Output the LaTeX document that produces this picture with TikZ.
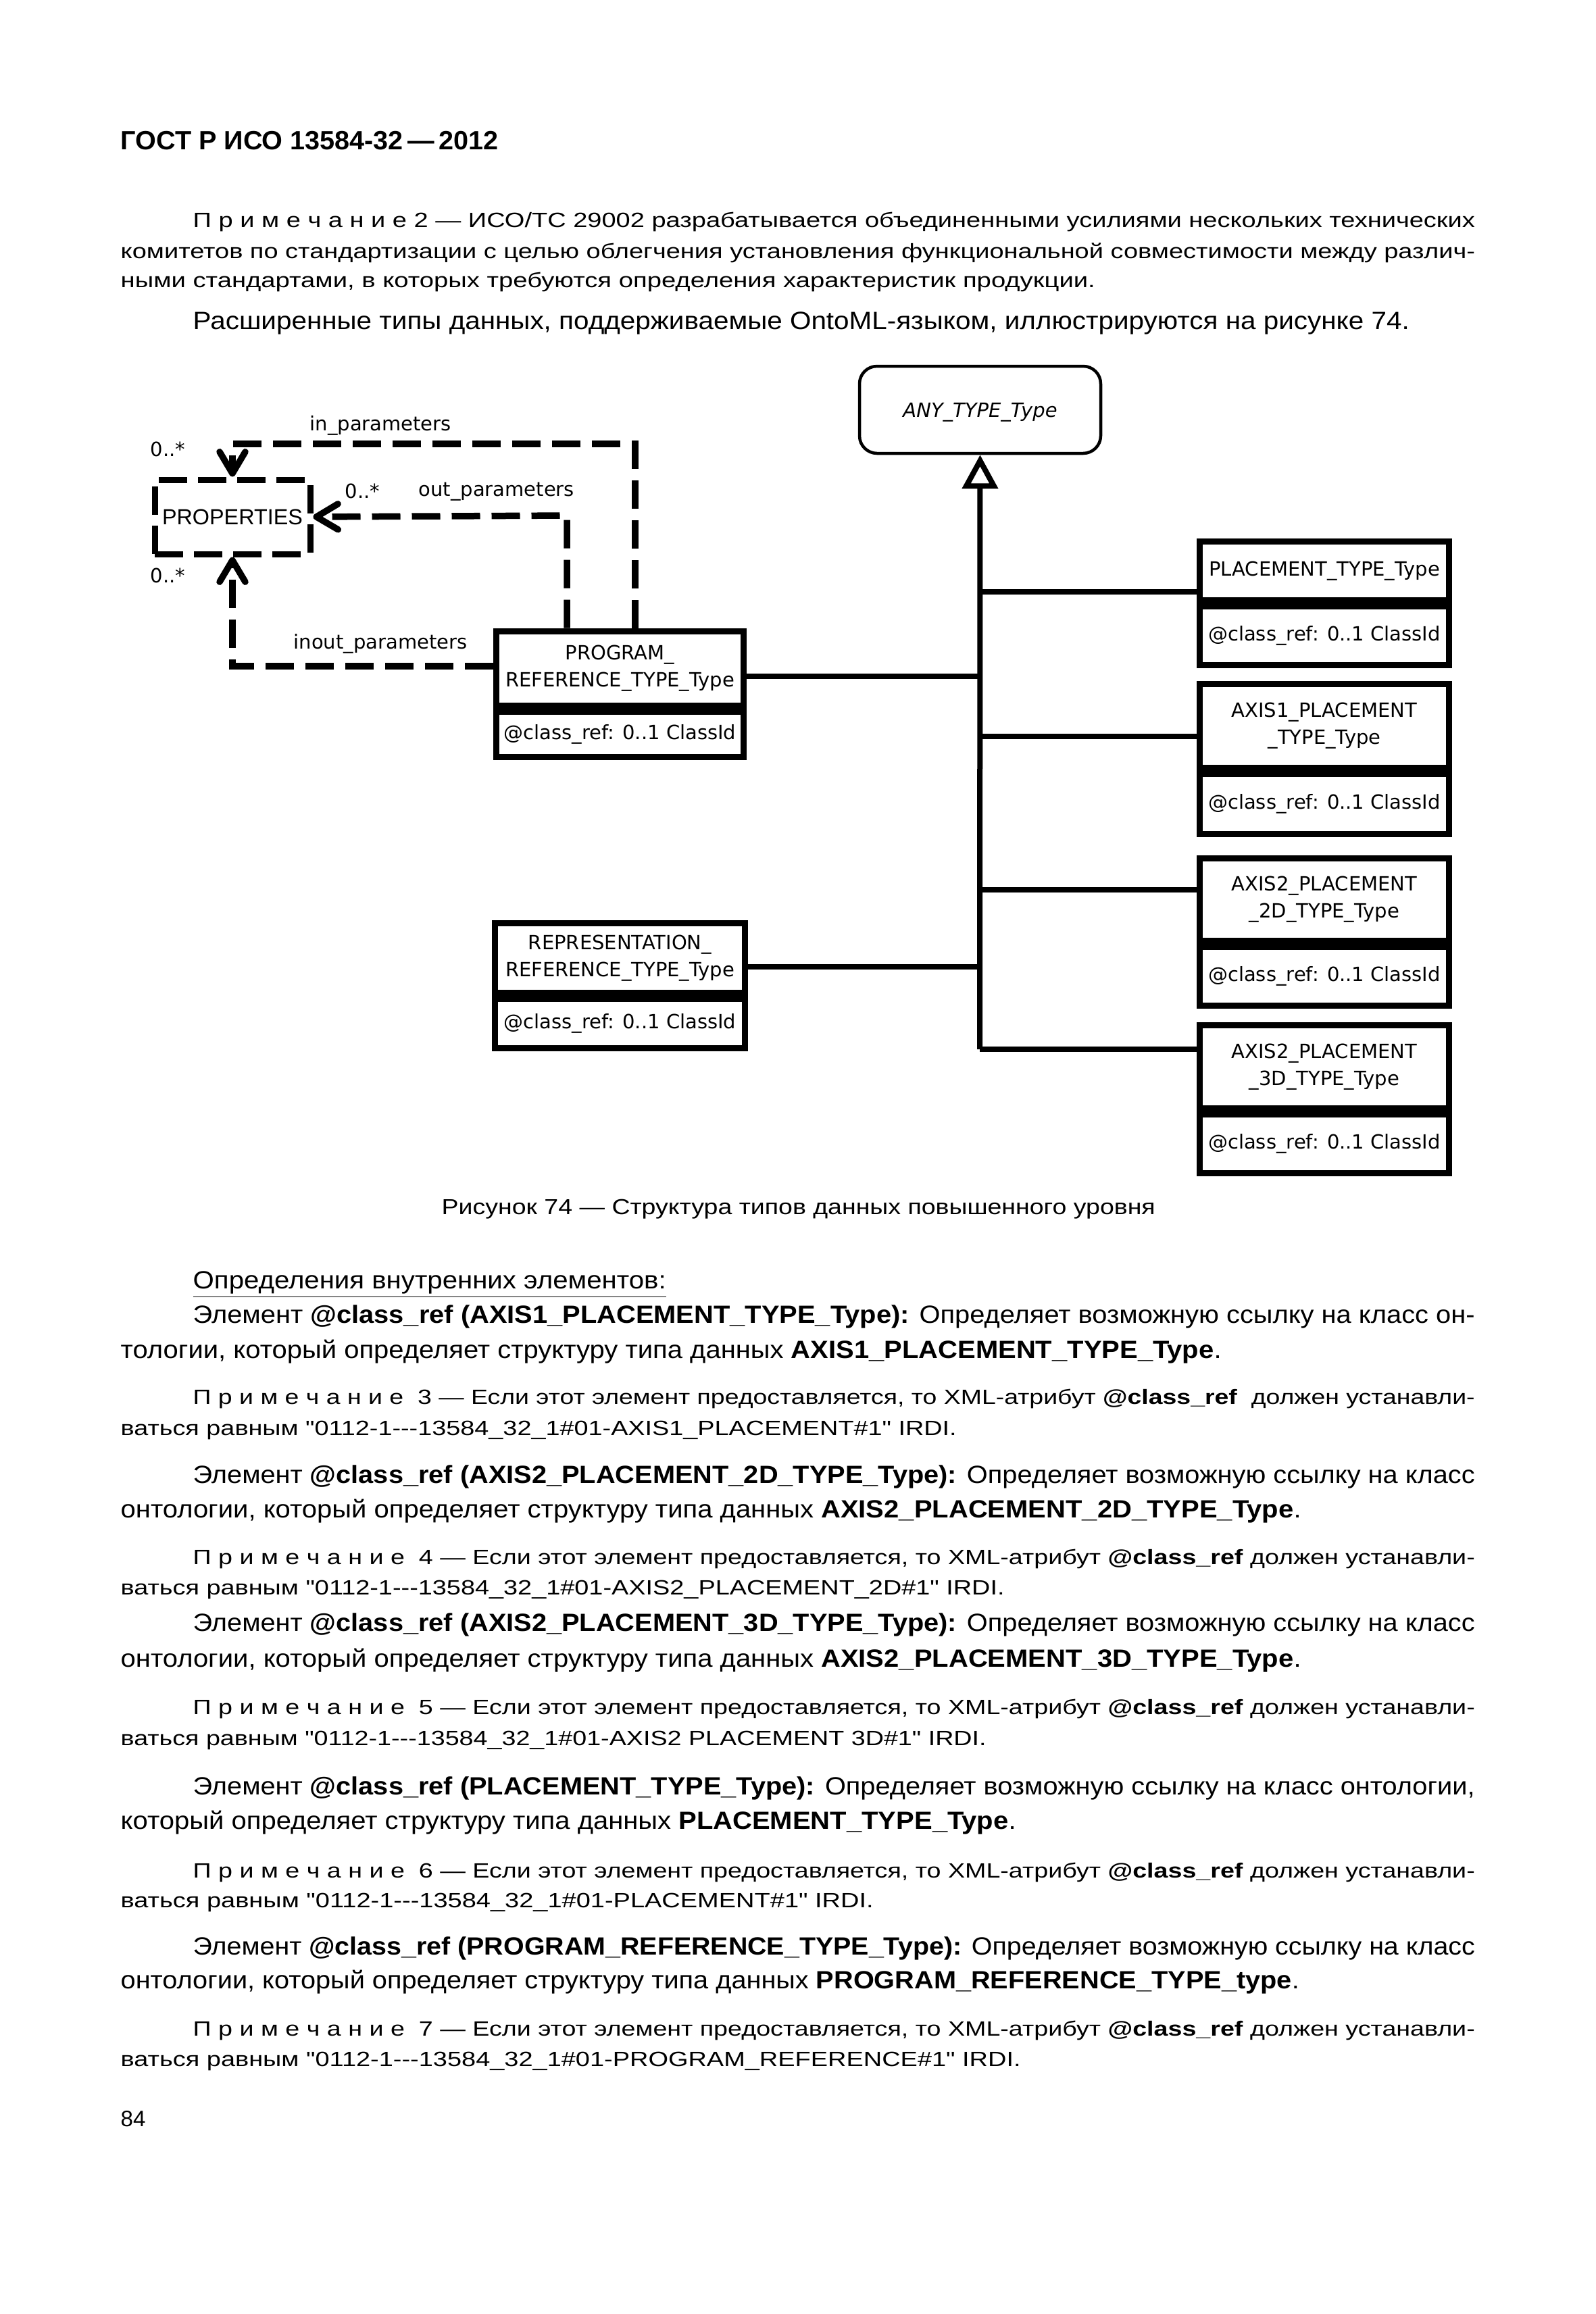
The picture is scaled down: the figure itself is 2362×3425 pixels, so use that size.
\documentclass[tikz,border=0pt]{standalone}
\usepackage{graphicx}
\usepackage{fontspec}
\setmainfont{Liberation Sans}
\newfontfamily\dfont{DejaVu Sans}
\usetikzlibrary{arrows.meta}
\newlength\pxu \setlength\pxu{0.1mm}
\newcommand\bodyfs{\fontsize{10.5}{12}\selectfont}
\newcommand\notefs{\fontsize{8.7}{10}\selectfont}
\newcommand\capfs{\fontsize{9.1}{10}\selectfont}
\newcommand\headfs{\fontsize{11.1}{13}\selectfont\bfseries}
\newcommand\diagfs{\dfont\fontsize{8.25}{11.4}\selectfont}
\newcommand\propfs{\fontsize{9.2}{11}\selectfont}
\newcommand\qq{\textquotedbl}
\newcommand\tline[6]{\node[anchor=base west,inner sep=0,font=#6] (#1) at (#2,#3) {\resizebox{#4\pxu}{\height}{#5}};}
\tikzset{
  clsh/.style={draw, line width=0.9mm, inner sep=0pt, font=\diagfs, align=center, anchor=north},
  conn/.style={line width=0.8mm},
  dconn/.style={line width=0.95mm, dash pattern=on 4.2mm off 1.7mm},
  barb/.tip={Straight Barb[length=3.2mm,width=3.8mm,round]},
  lbl/.style={anchor=base west, inner sep=0, font=\diagfs}
}
\begin{document}
\begin{tikzpicture}[x=0.1mm,y=-0.1mm]
\useasboundingbox (0,0) rectangle (2362,3425);
% header and introductory text
\tline{h}{178}{221}{559}{ГОСТ Р ИСО 13584-32\,—\,2012}{\headfs}
\tline{n2a}{285}{336}{1897}{П р и м е ч а н и е 2 — ИСО/ТС 29002 разрабатывается объединенными усилиями нескольких технических}{\notefs}
\tline{n2b}{178}{382}{2004}{комитетов по стандартизации с целью облегчения установления функциональной совместимости между различ-}{\notefs}
\tline{n2c}{178}{425.5}{1442}{ными стандартами, в которых требуются определения характеристик продукции.}{\notefs}
\tline{p1}{285}{487}{1800}{Расширенные типы данных, поддерживаемые OntoML-языком, иллюстрируются на рисунке 74.}{\bodyfs}

% ---------- diagram ----------
\node[draw, rounded corners=2.6mm, line width=0.45mm, minimum width=35.7mm, minimum height=12.9mm, inner sep=0, text depth=0pt, font=\diagfs\itshape] (any) at (1450.5,606.5) {ANY\_TYPE\_Type};

\node[draw, line width=0.9mm, dash pattern=on 4.2mm off 1.6mm, minimum width=23.0mm, minimum height=11.0mm, inner sep=0, font=\propfs] (props) at (344,765) {PROPERTIES};

\node[clsh, minimum width=36.6mm, minimum height=11.05mm] (prog) at (917.5,929.5) {PROGRAM\_\\REFERENCE\_TYPE\_Type};
\node[clsh, minimum width=36.6mm, minimum height=6.65mm] (proga) at (prog.south) {@class\_ref: 0..1 ClassId};

\node[clsh, minimum width=37.0mm, minimum height=10.35mm] (repr) at (917.5,1361.5) {REPRESENTATION\_\\REFERENCE\_TYPE\_Type};
\node[clsh, minimum width=37.0mm, minimum height=7.25mm] (repra) at (repr.south) {@class\_ref: 0..1 ClassId};

\node[clsh, minimum width=36.9mm, minimum height=8.75mm] (plc) at (1960,796.5) {PLACEMENT\_TYPE\_Type};
\node[clsh, minimum width=36.9mm, minimum height=8.65mm] (plca) at (plc.south) {@class\_ref: 0..1 ClassId};

\node[clsh, minimum width=36.9mm, minimum height=12.45mm] (ax1) at (1960,1007.5) {AXIS1\_PLACEMENT\\\_TYPE\_Type};
\node[clsh, minimum width=36.9mm, minimum height=8.85mm] (ax1a) at (ax1.south) {@class\_ref: 0..1 ClassId};

\node[clsh, minimum width=36.9mm, minimum height=12.25mm] (ax2) at (1960,1265.5) {AXIS2\_PLACEMENT\\\_2D\_TYPE\_Type};
\node[clsh, minimum width=36.9mm, minimum height=8.65mm] (ax2a) at (ax2.south) {@class\_ref: 0..1 ClassId};

\node[clsh, minimum width=36.9mm, minimum height=12.35mm] (ax3) at (1960,1512.5) {AXIS2\_PLACEMENT\\\_3D\_TYPE\_Type};
\node[clsh, minimum width=36.9mm, minimum height=8.65mm] (ax3a) at (ax3.south) {@class\_ref: 0..1 ClassId};

% generalisation trunk
\coordinate (tplc) at (1450,876);
\coordinate (tprog) at (1450,1001);
\coordinate (tax1) at (1450,1090);
\coordinate (tax2) at (1450,1317);
\coordinate (trepr) at (1450,1431);
\coordinate (tax3) at (1450,1553);
\draw[conn, -{Triangle[open,length=5.0mm,width=5.2mm,fill=white]}] (tax3) -- (any.south);
\draw[conn] (tplc) -- (tplc -| plc.west);
\draw[conn] (tax1) -- (tax1 -| ax1.west);
\draw[conn] (tax2) -- (tax2 -| ax2.west);
\draw[conn] (tax3) -- (tax3 -| ax3.west);
\draw[conn] (tprog -| prog.east) -- (tprog);
\draw[conn] (trepr -| repr.east) -- (trepr);

% dashed associations
\coordinate (inA) at (940,657);
\coordinate (outA) at (839,763);
\coordinate (ioA) at (344,986);
\draw[dconn, -{barb}] (inA |- prog.north) -- (inA) -- (inA -| props.north) -- (props.north);
\draw[dconn, -{barb}] (outA |- prog.north) -- (outA) -- (props.east);
\draw[dconn, -{barb}] (ioA -| prog.west) -- (ioA) -- (props.south);

\node[lbl] (lin) at (458,637) {in\_parameters};
\node[lbl] (lout) at (619,734) {out\_parameters};
\node[lbl] (lio) at (434,960) {inout\_parameters};
\node[lbl] (m1) at (222,675.5) {0..*};
\node[lbl] (m2) at (510,737) {0..*};
\node[lbl] (m3) at (222,862) {0..*};

\tline{cap}{653}{1797}{1056}{Рисунок 74 — Структура типов данных повышенного уровня}{\capfs}

% ---------- definitions ----------
\tline{d0}{285}{1907}{700}{\underline{Определения внутренних элементов:}}{\bodyfs}
\tline{e1a}{285}{1958}{1897}{Элемент \textbf{@class\_ref (AXIS1\_PLACEMENT\_TYPE\_Type):} Определяет возможную ссылку на класс он-}{\bodyfs}
\tline{e1b}{178}{2010}{1629}{тологии, который определяет структуру типа данных \textbf{AXIS1\_PLACEMENT\_TYPE\_Type}.}{\bodyfs}
\tline{n3a}{285}{2078}{1897}{П р и м е ч а н и е \ 3 — Если этот элемент предоставляется, то XML-атрибут \textbf{@class\_ref} \ должен устанавли-}{\notefs}
\tline{n3b}{178}{2124}{1237}{ваться равным \qq0112-1-{}-{}-13584\_32\_1\#01-AXIS1\_PLACEMENT\#1\qq\ IRDI.}{\notefs}

\tline{e2a}{285}{2195}{1897}{Элемент \textbf{@class\_ref (AXIS2\_PLACEMENT\_2D\_TYPE\_Type):} Определяет возможную ссылку на класс}{\bodyfs}
\tline{e2b}{178}{2246}{1747}{онтологии, который определяет структуру типа данных \textbf{AXIS2\_PLACEMENT\_2D\_TYPE\_Type}.}{\bodyfs}
\tline{n4a}{285}{2315}{1897}{П р и м е ч а н и е \ 4 — Если этот элемент предоставляется, то XML-атрибут \textbf{@class\_ref} должен устанавли-}{\notefs}
\tline{n4b}{178}{2360}{1308}{ваться равным \qq0112-1-{}-{}-13584\_32\_1\#01-AXIS2\_PLACEMENT\_2D\#1\qq\ IRDI.}{\notefs}

\tline{e3a}{285}{2414}{1897}{Элемент \textbf{@class\_ref (AXIS2\_PLACEMENT\_3D\_TYPE\_Type):} Определяет возможную ссылку на класс}{\bodyfs}
\tline{e3b}{178}{2467}{1747}{онтологии, который определяет структуру типа данных \textbf{AXIS2\_PLACEMENT\_3D\_TYPE\_Type}.}{\bodyfs}
\tline{n5a}{285}{2537}{1897}{П р и м е ч а н и е \ 5 — Если этот элемент предоставляется, то XML-атрибут \textbf{@class\_ref} должен устанавли-}{\notefs}
\tline{n5b}{178}{2583}{1281}{ваться равным \qq0112-1-{}-{}-13584\_32\_1\#01-AXIS2 PLACEMENT 3D\#1\qq\ IRDI.}{\notefs}

\tline{e4a}{285}{2656}{1897}{Элемент \textbf{@class\_ref (PLACEMENT\_TYPE\_Type):} Определяет возможную ссылку на класс онтологии,}{\bodyfs}
\tline{e4b}{178}{2707}{1325}{который определяет структуру типа данных \textbf{PLACEMENT\_TYPE\_Type}.}{\bodyfs}
\tline{n6a}{285}{2779}{1897}{П р и м е ч а н и е \ 6 — Если этот элемент предоставляется, то XML-атрибут \textbf{@class\_ref} должен устанавли-}{\notefs}
\tline{n6b}{178}{2823}{1114}{ваться равным \qq0112-1-{}-{}-13584\_32\_1\#01-PLACEMENT\#1\qq\ IRDI.}{\notefs}

\tline{e5a}{285}{2893}{1897}{Элемент \textbf{@class\_ref (PROGRAM\_REFERENCE\_TYPE\_Type):} Определяет возможную ссылку на класс}{\bodyfs}
\tline{e5b}{178}{2943}{1744}{онтологии, который определяет структуру типа данных \textbf{PROGRAM\_REFERENCE\_TYPE\_type}.}{\bodyfs}
\tline{n7a}{285}{3013}{1897}{П р и м е ч а н и е \ 7 — Если этот элемент предоставляется, то XML-атрибут \textbf{@class\_ref} должен устанавли-}{\notefs}
\tline{n7b}{178}{3058}{1332}{ваться равным \qq0112-1-{}-{}-13584\_32\_1\#01-PROGRAM\_REFERENCE\#1\qq\ IRDI.}{\notefs}

\node[anchor=base west, inner sep=0, font=\fontsize{9.4}{11}\selectfont] (pg) at (178,3147) {84};
\end{tikzpicture}
\end{document}
